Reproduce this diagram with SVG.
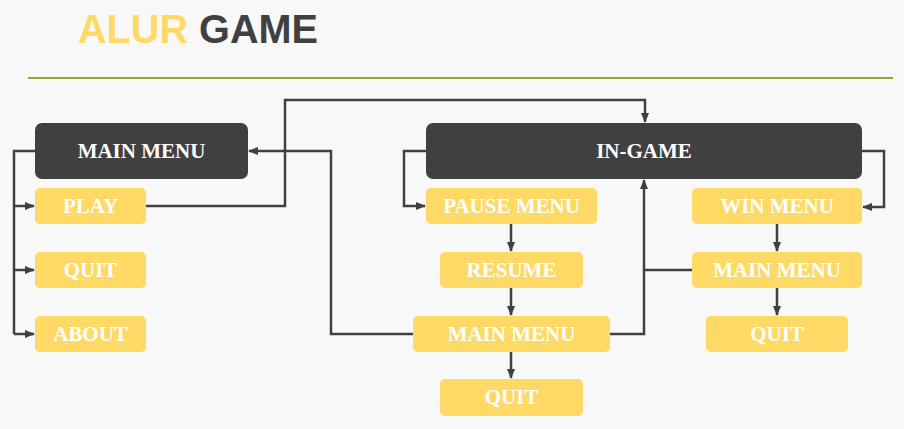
<svg xmlns="http://www.w3.org/2000/svg" width="904" height="429" viewBox="0 0 904 429">
<style>
.dk{fill:#404040}
.yl{fill:#FFD966}
.lb{font-family:"Liberation Serif","Times New Roman",serif;font-weight:bold;font-size:21px;fill:#ffffff;text-anchor:middle}
.ln{fill:none;stroke:#404040;stroke-width:2.5;stroke-linejoin:miter}
.ar{marker-end:url(#ah)}
</style>
<defs>
<marker id="ah" viewBox="0 0 10 10" refX="9" refY="5" markerWidth="10" markerHeight="10" markerUnits="userSpaceOnUse" orient="auto">
<path d="M0,1 L10,5 L0,9 Z" fill="#404040"/>
</marker>
</defs>
<rect width="904" height="429" fill="#f8f8f8"/>
<text x="78" y="43" font-family="'Liberation Sans',Arial,sans-serif" font-weight="bold" font-size="41" textLength="240" lengthAdjust="spacingAndGlyphs"><tspan fill="#FFD966">ALUR</tspan><tspan fill="#404040"> GAME</tspan></text>
<line x1="28" y1="78" x2="893" y2="78" stroke="#8fa83e" stroke-width="2"/>

<g id="connectors">
<polyline class="ln" points="35,151 14,151 14,334"/>
<line class="ln ar" x1="14" y1="206" x2="34" y2="206"/>
<line class="ln ar" x1="14" y1="270" x2="34" y2="270"/>
<line class="ln ar" x1="14" y1="334" x2="34" y2="334"/>
<polyline class="ln ar" points="146,206 285,206 285,100 645,100 645,122"/>
<polyline class="ln ar" points="414,334 331,334 331,151 249,151"/>
<polyline class="ln ar" points="426,151 404,151 404,206 425,206"/>
<line class="ln ar" x1="511" y1="224" x2="511" y2="251"/>
<line class="ln ar" x1="511" y1="288" x2="511" y2="315"/>
<line class="ln ar" x1="511" y1="352" x2="511" y2="378"/>
<polyline class="ln ar" points="862,151 884,151 884,207 863,207"/>
<line class="ln ar" x1="777" y1="224" x2="777" y2="251"/>
<line class="ln ar" x1="777" y1="288" x2="777" y2="315"/>
<polyline class="ln ar" points="610,334 644,334 644,180"/>
<line class="ln" x1="692" y1="270" x2="644" y2="270"/>
</g>

<g id="main-menu"><rect class="dk" x="35" y="123" width="213" height="56" rx="7"/><text class="lb" x="141.5" y="158">MAIN MENU</text></g>
<g id="play"><rect class="yl" x="35" y="188" width="111" height="36" rx="5"/><text class="lb" x="90.5" y="213">PLAY</text></g>
<g id="quit-main"><rect class="yl" x="35" y="252" width="111" height="36" rx="5"/><text class="lb" x="90.5" y="277">QUIT</text></g>
<g id="about"><rect class="yl" x="35" y="316" width="111" height="36" rx="5"/><text class="lb" x="90.5" y="341">ABOUT</text></g>

<g id="in-game"><rect class="dk" x="426" y="123" width="436" height="56" rx="7"/><text class="lb" x="644" y="158">IN-GAME</text></g>
<g id="pause-menu"><rect class="yl" x="426" y="188" width="171" height="36" rx="5"/><text class="lb" x="511.5" y="213">PAUSE MENU</text></g>
<g id="resume"><rect class="yl" x="440" y="252" width="143" height="36" rx="5"/><text class="lb" x="511.5" y="277">RESUME</text></g>
<g id="pause-main-menu"><rect class="yl" x="413" y="316" width="197" height="36" rx="5"/><text class="lb" x="511.5" y="341">MAIN MENU</text></g>
<g id="pause-quit"><rect class="yl" x="440" y="379" width="143" height="37" rx="5"/><text class="lb" x="511.5" y="404">QUIT</text></g>

<g id="win-menu"><rect class="yl" x="692" y="188" width="170" height="36" rx="5"/><text class="lb" x="777" y="213">WIN MENU</text></g>
<g id="win-main-menu"><rect class="yl" x="692" y="252" width="170" height="36" rx="5"/><text class="lb" x="777" y="277">MAIN MENU</text></g>
<g id="win-quit"><rect class="yl" x="706" y="316" width="142" height="36" rx="5"/><text class="lb" x="777" y="341">QUIT</text></g>
</svg>
